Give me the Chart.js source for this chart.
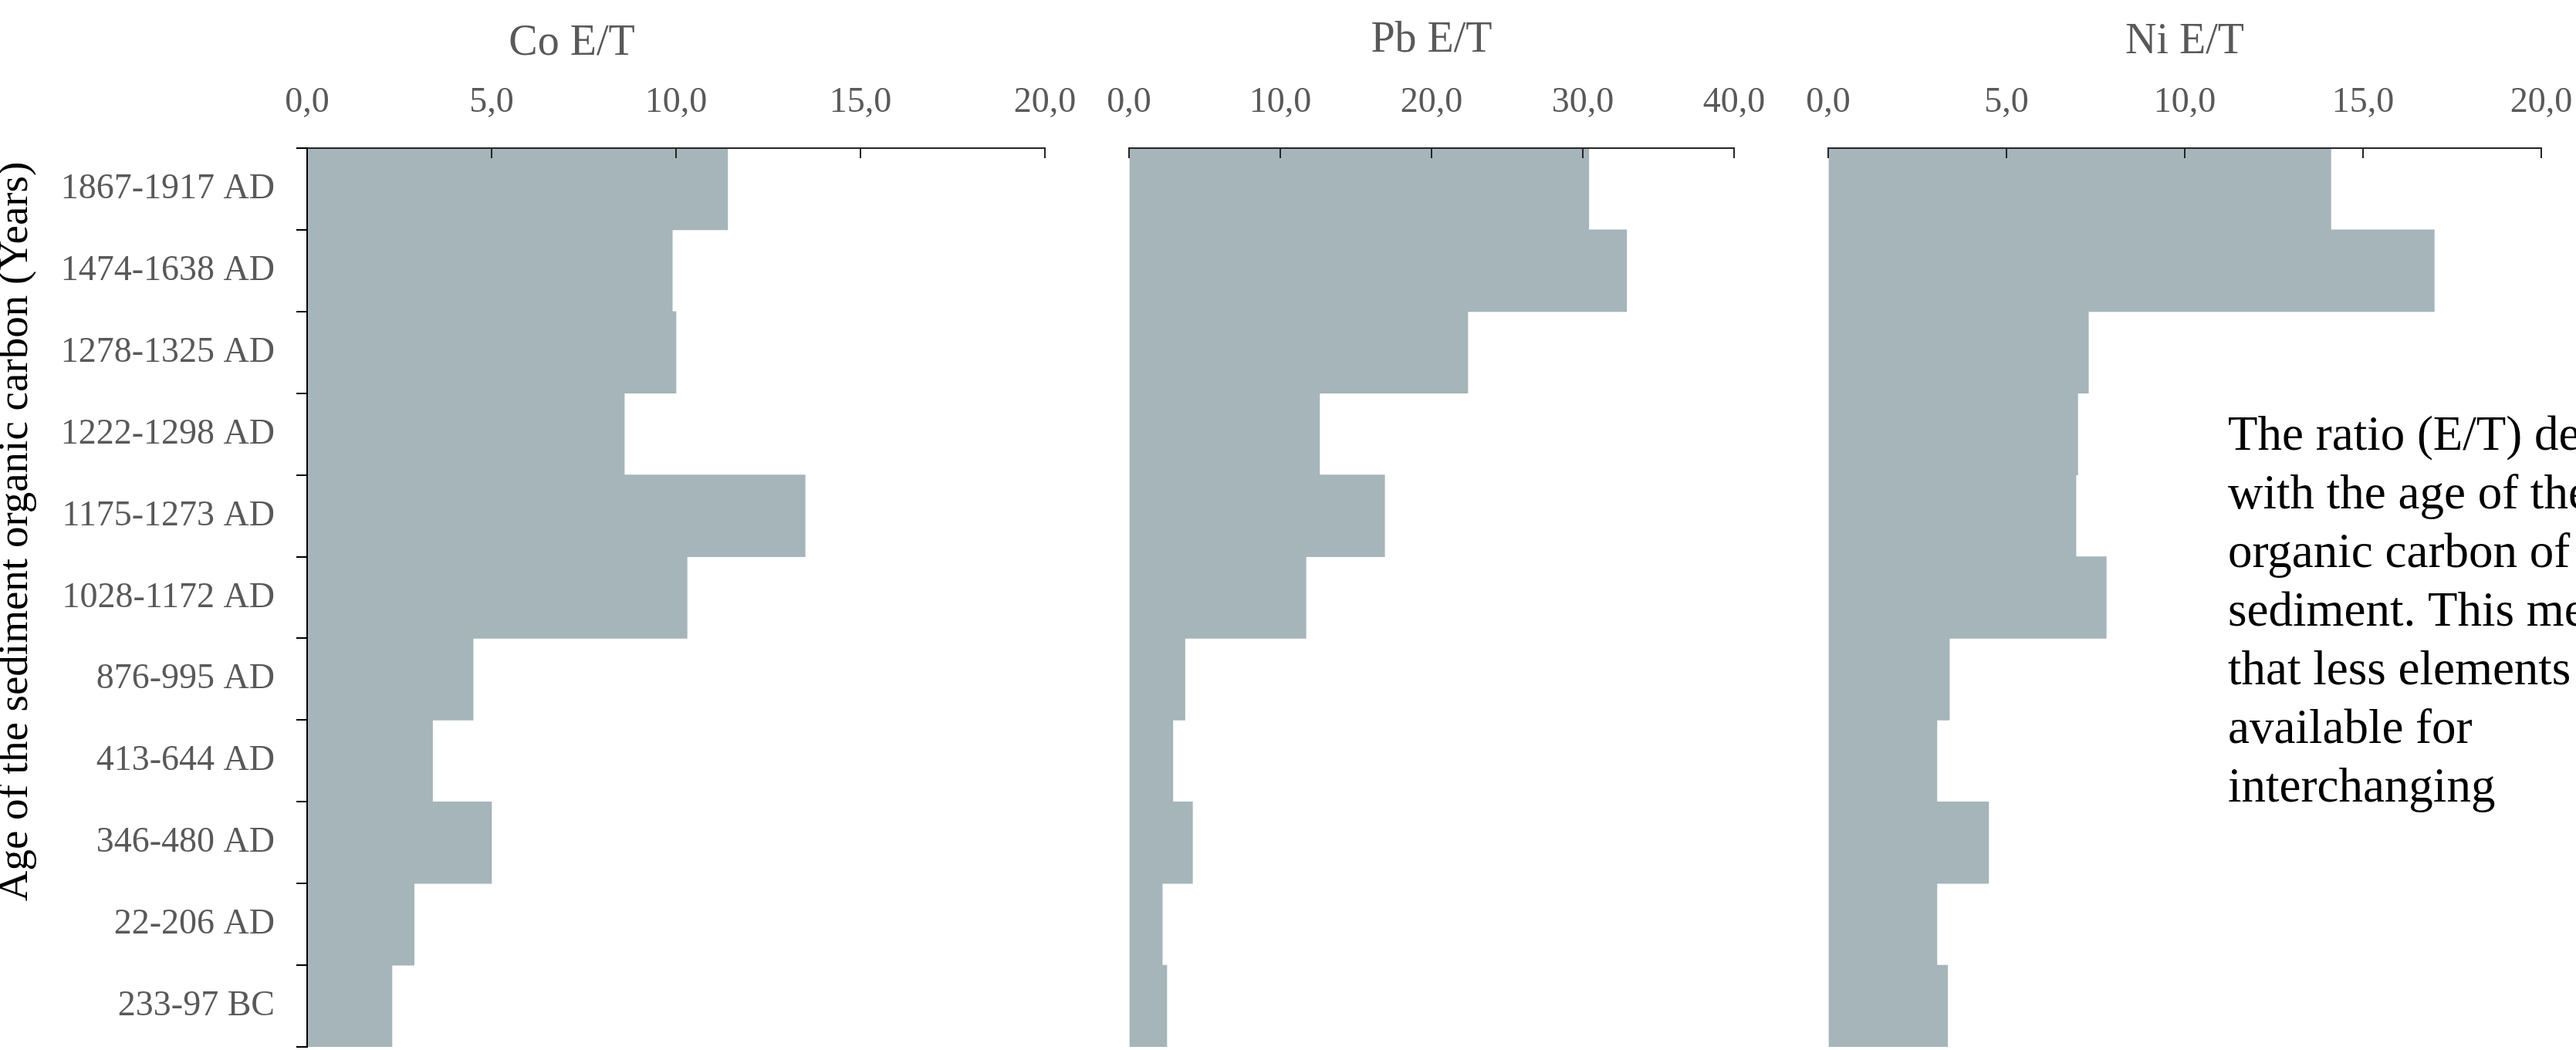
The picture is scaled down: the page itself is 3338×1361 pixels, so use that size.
<!DOCTYPE html>
<html>
<head>
<meta charset="utf-8">
<script src="https://cdn.jsdelivr.net/npm/chart.js@4.4.1/dist/chart.umd.min.js"></script>
<style>
html,body{margin:0;padding:0;background:#fff;overflow:hidden;width:3338px;height:1361px;}
canvas{position:absolute;top:0;}
</style>
</head>
<body>
<canvas id="co" width="1410" height="1361" style="left:0px"></canvas>
<canvas id="pb" width="890" height="1361" style="left:1410px"></canvas>
<canvas id="ni" width="1038" height="1361" style="left:2300px"></canvas>
<script>
// ---------- data ----------
const categories = ['1867-1917 AD','1474-1638 AD','1278-1325 AD','1222-1298 AD','1175-1273 AD','1028-1172 AD','876-995 AD','413-644 AD','346-480 AD','22-206 AD','233-97 BC'];
const coValues = [11.4, 9.9, 10.0, 8.6, 13.5, 10.3, 4.5, 3.4, 5.0, 2.9, 2.3];
const pbValues = [30.4, 32.9, 22.4, 12.6, 16.9, 11.7, 3.7, 2.9, 4.2, 2.2, 2.5];
const niValues = [14.1, 17.0, 7.3, 7.0, 6.95, 7.8, 3.4, 3.05, 4.5, 3.05, 3.35];
const coTicks = [0, 5, 10, 15, 20];
const pbTicks = [0, 10, 20, 30, 40];
const niTicks = [0, 5, 10, 15, 20];
const panelTitles = ['Co E/T', 'Pb E/T', 'Ni E/T'];
const yAxisTitle = 'Age of the sediment organic carbon (Years)';
const noteLines = ['The ratio (E/T) decreases', 'with the age of the', 'organic carbon of the', 'sediment. This means', 'that less elements are', 'available for', 'interchanging'];

// ---------- styles ----------
const SERIF = "'Liberation Serif', 'Times New Roman', serif";
const BAR = '#A5B5B9';
const GREY = '#595959';
const AXIS = '#262626';

function fmt(v) { return Number(v).toFixed(1).replace('.', ','); }

function textPlugin(id, items) {
  return {
    id: id,
    afterDraw(chart) {
      const ctx = chart.ctx;
      items.forEach(it => {
        ctx.save();
        ctx.font = it.font;
        ctx.fillStyle = it.color;
        ctx.textAlign = it.align || 'left';
        ctx.textBaseline = it.baseline || 'alphabetic';
        ctx.translate(it.x, it.y);
        if (it.rotate) ctx.rotate(it.rotate);
        ctx.fillText(it.text, 0, 0);
        ctx.restore();
      });
    }
  };
}

function zeroPad(s) { s.paddingLeft = 0; s.paddingRight = 0; s.paddingTop = 0; s.paddingBottom = 0; }

function xScale(max, tickVals, height) {
  return {
    position: 'top',
    min: 0,
    max: max,
    afterBuildTicks: s => { s.ticks = tickVals.map(v => ({ value: v })); },
    ticks: {
      font: { family: SERIF, size: 46 },
      color: GREY,
      padding: 44,
      maxRotation: 0,
      autoSkip: false,
      callback: v => fmt(v)
    },
    grid: { drawOnChartArea: false, drawTicks: true, tickLength: -13, color: AXIS, lineWidth: 2, z: 1 },
    border: { display: true, color: AXIS, width: 2, z: 1 },
    afterFit: s => { s.height = height; zeroPad(s); }
  };
}

function titleOpts(text, top, bottom) {
  return {
    display: true,
    text: text,
    color: GREY,
    font: { family: SERIF, size: 56, weight: 'normal', lineHeight: '68px' },
    padding: { top: top, bottom: bottom }
  };
}

function dataset(values) {
  return { data: values, backgroundColor: BAR, borderWidth: 0, barPercentage: 1, categoryPercentage: 1 };
}

const common = {
  responsive: false,
  animation: false,
  devicePixelRatio: 1,
  indexAxis: 'y',
  events: []
};

// ---------- Co ----------
new Chart(document.getElementById('co'), {
  type: 'bar',
  data: { labels: categories, datasets: [dataset(coValues)] },
  options: Object.assign({}, common, {
    layout: { padding: { left: 0, right: 56, top: 0, bottom: 4 } },
    plugins: { legend: { display: false }, tooltip: { enabled: false }, title: { display: false } },
    scales: {
      x: xScale(20, coTicks, 192),
      y: {
        type: 'category',
        offset: true,
        grid: { offset: true, drawOnChartArea: false, drawTicks: true, tickLength: 14, color: '#000', lineWidth: 2, z: 1 },
        border: { display: true, color: '#000', width: 2, z: 1 },
        ticks: { font: { family: SERIF, size: 46 }, color: GREY, padding: 28, autoSkip: false },
        afterFit: s => { s.width = 398; zeroPad(s); }
      }
    }
  }),
  plugins: [textPlugin('cotext', [
    { text: panelTitles[0], x: 741, y: 56, align: 'center', baseline: 'middle', font: '56px ' + SERIF, color: GREY },
    { text: yAxisTitle, x: 21, y: 689, rotate: -Math.PI / 2, align: 'center', baseline: 'middle', font: '55px ' + SERIF, color: '#000' }
  ])]
});

// ---------- Pb ----------
new Chart(document.getElementById('pb'), {
  type: 'bar',
  data: { labels: categories, datasets: [dataset(pbValues)] },
  options: Object.assign({}, common, {
    layout: { padding: { left: 53, right: 53, top: 0, bottom: 4 } },
    plugins: { legend: { display: false }, tooltip: { enabled: false }, title: titleOpts(panelTitles[1], 18, 14) },
    scales: {
      x: xScale(40, pbTicks, 92),
      y: { type: 'category', offset: true, display: false }
    }
  })
});

// ---------- Ni ----------
new Chart(document.getElementById('ni'), {
  type: 'bar',
  data: { labels: categories, datasets: [dataset(niValues)] },
  options: Object.assign({}, common, {
    layout: { padding: { left: 69, right: 45, top: 0, bottom: 4 } },
    plugins: { legend: { display: false }, tooltip: { enabled: false }, title: titleOpts(panelTitles[2], 20, 12) },
    scales: {
      x: xScale(20, niTicks, 92),
      y: { type: 'category', offset: true, display: false }
    }
  }),
  plugins: [textPlugin('note', noteLines.map((t, i) => ({
    text: t, x: 587, y: 583 + 76 * i, font: '63px ' + SERIF, color: '#000'
  })))]
});
</script>
</body>
</html>
